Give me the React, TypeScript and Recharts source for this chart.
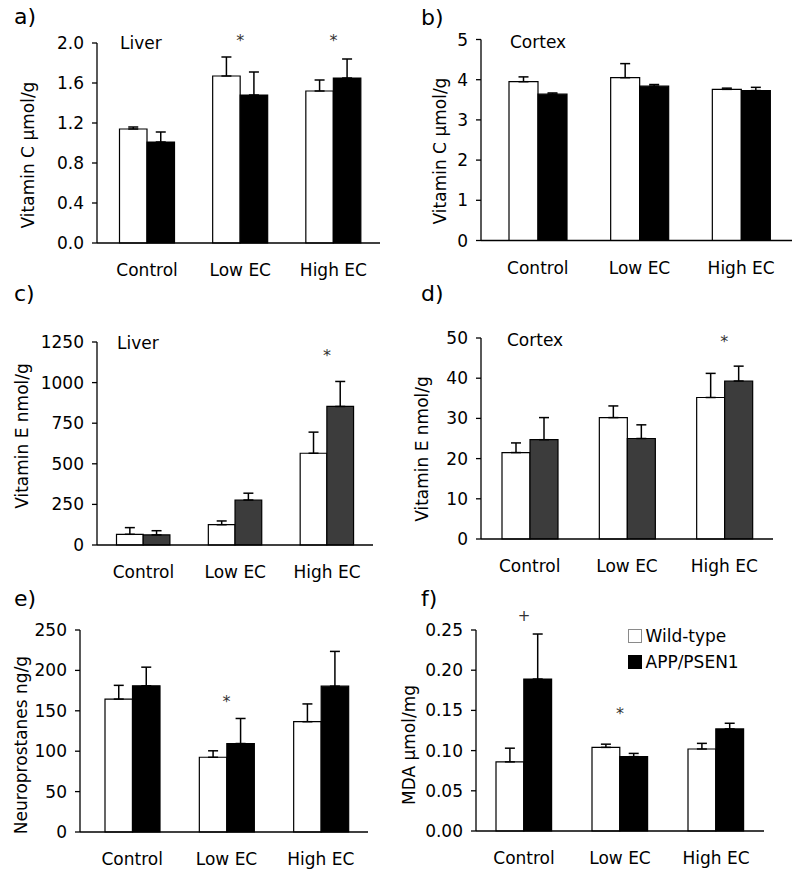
import React from 'react';
import { BarChart, Bar, XAxis, YAxis, ErrorBar, ReferenceDot, Legend, Label } from 'recharts';

const FONT = '"DejaVu Sans", Verdana, sans-serif';

const categories = ['Control', 'Low EC', 'High EC'];
const groupNames = ['Wild-type', 'APP/PSEN1'];

// a) vitamin C, liver (µmol/g)
const vitCLiverWT = [1.14, 1.67, 1.52];
const vitCLiverWTErr = [0.02, 0.19, 0.11];
const vitCLiverTg = [1.01, 1.48, 1.65];
const vitCLiverTgErr = [0.1, 0.23, 0.19];

// b) vitamin C, cortex (µmol/g)
const vitCCortexWT = [3.95, 4.05, 3.76];
const vitCCortexWTErr = [0.12, 0.35, 0.03];
const vitCCortexTg = [3.64, 3.84, 3.73];
const vitCCortexTgErr = [0.03, 0.04, 0.08];

// c) vitamin E, liver (nmol/g)
const vitELiverWT = [66, 125, 565];
const vitELiverWTErr = [41, 23, 130];
const vitELiverTg = [62, 277, 853];
const vitELiverTgErr = [26, 42, 154];

// d) vitamin E, cortex (nmol/g)
const vitECortexWT = [21.5, 30.2, 35.2];
const vitECortexWTErr = [2.4, 2.9, 6.0];
const vitECortexTg = [24.7, 25.0, 39.3];
const vitECortexTgErr = [5.5, 3.4, 3.7];

// e) neuroprostanes (ng/g)
const neuroWT = [164.5, 92.5, 136.5];
const neuroWTErr = [17, 8, 22];
const neuroTg = [181, 109.5, 180.5];
const neuroTgErr = [23, 31, 43];

// f) MDA (µmol/mg)
const mdaWT = [0.086, 0.104, 0.102];
const mdaWTErr = [0.017, 0.004, 0.007];
const mdaTg = [0.189, 0.0925, 0.127];
const mdaTgErr = [0.056, 0.004, 0.007];

// y ticks
const ticksA = [0, 0.4, 0.8, 1.2, 1.6, 2.0];
const ticksB = [0, 1, 2, 3, 4, 5];
const ticksC = [0, 250, 500, 750, 1000, 1250];
const ticksD = [0, 10, 20, 30, 40, 50];
const ticksE = [0, 50, 100, 150, 200, 250];
const ticksF = [0, 0.05, 0.1, 0.15, 0.2, 0.25];

// significance marks: category, height in data units, symbol
const marksA = [{ cat: 'Low EC', y: 2.06, sym: '*' }, { cat: 'High EC', y: 2.06, sym: '*' }];
const marksC = [{ cat: 'High EC', y: 1188, sym: '*' }];
const marksD = [{ cat: 'High EC', y: 50, sym: '*' }];
const marksE = [{ cat: 'Low EC', y: 166, sym: '*' }];
const marksF = [{ cat: 'Control', y: 0.2687, sym: '+' }, { cat: 'Low EC', y: 0.1505, sym: '*' }];

type Mark = { cat: string; y: number; sym: string };

interface PanelDef {
  letter: string;
  letterPos: [number, number];
  tissue?: string;
  tissuePos?: [number, number];
  yLabel: string;
  yLabelPos: [number, number];
  box: [number, number, number, number]; // x0, y0, w, h
  plot: [number, number, number, number]; // left, right, top, bottom (page coords)
  padLeft: number;
  barSize: number;
  ticks: number[];
  decimals: number;
  wt: number[];
  wtErr: number[];
  tg: number[];
  tgErr: number[];
  tgFill: string;
  marks: Mark[];
  legend?: boolean;
}

const panels: PanelDef[] = [
  {
    letter: 'a)', letterPos: [14, 6], tissue: 'Liver', tissuePos: [120, 35],
    yLabel: 'Vitamin C µmol/g', yLabelPos: [28, 155],
    box: [0, 0, 400, 290], plot: [97, 380, 43, 243], padLeft: 3.5, barSize: 27.5,
    ticks: ticksA, decimals: 1,
    wt: vitCLiverWT, wtErr: vitCLiverWTErr, tg: vitCLiverTg, tgErr: vitCLiverTgErr,
    tgFill: '#000', marks: marksA,
  },
  {
    letter: 'b)', letterPos: [421, 7], tissue: 'Cortex', tissuePos: [510, 34],
    yLabel: 'Vitamin C µmol/g', yLabelPos: [440, 151],
    box: [400, 0, 400, 290], plot: [481, 792, 39.5, 240.5], padLeft: 6, barSize: 29,
    ticks: ticksB, decimals: 0,
    wt: vitCCortexWT, wtErr: vitCCortexWTErr, tg: vitCCortexTg, tgErr: vitCCortexTgErr,
    tgFill: '#000', marks: [],
  },
  {
    letter: 'c)', letterPos: [14, 283], tissue: 'Liver', tissuePos: [117, 335],
    yLabel: 'Vitamin E nmol/g', yLabelPos: [22, 436],
    box: [0, 290, 400, 300], plot: [97, 373, 342, 545], padLeft: 0.5, barSize: 26.7,
    ticks: ticksC, decimals: 0,
    wt: vitELiverWT, wtErr: vitELiverWTErr, tg: vitELiverTg, tgErr: vitELiverTgErr,
    tgFill: '#3c3c3c', marks: marksC,
  },
  {
    letter: 'd)', letterPos: [421, 283], tissue: 'Cortex', tissuePos: [507, 332],
    yLabel: 'Vitamin E nmol/g', yLabelPos: [422, 449],
    box: [400, 290, 400, 300], plot: [481, 773, 338, 539], padLeft: 0, barSize: 28,
    ticks: ticksD, decimals: 0,
    wt: vitECortexWT, wtErr: vitECortexWTErr, tg: vitECortexTg, tgErr: vitECortexTgErr,
    tgFill: '#3c3c3c', marks: marksD,
  },
  {
    letter: 'e)', letterPos: [14, 588],
    yLabel: 'Neuroprostanes ng/g', yLabelPos: [21, 745],
    box: [0, 590, 392, 288], plot: [80, 368, 630, 832], padLeft: 5, barSize: 27.5,
    ticks: ticksE, decimals: 0,
    wt: neuroWT, wtErr: neuroWTErr, tg: neuroTg, tgErr: neuroTgErr,
    tgFill: '#000', marks: marksE,
  },
  {
    letter: 'f)', letterPos: [421, 588],
    yLabel: 'MDA µmol/mg', yLabelPos: [409, 745],
    box: [392, 590, 408, 288], plot: [476, 764, 630, 831], padLeft: 0, barSize: 27.8,
    ticks: ticksF, decimals: 2,
    wt: mdaWT, wtErr: mdaWTErr, tg: mdaTg, tgErr: mdaTgErr,
    tgFill: '#000', marks: marksF, legend: true,
  },
];

const textStyle = { fill: '#000', fontSize: 17, fontFamily: FONT };

function LegendBox() {
  const swatches = ['#fff', '#000'];
  return (
    <div style={{ fontFamily: FONT, fontSize: 17, color: '#000' }}>
      {groupNames.map((g, i) => (
        <div key={g} style={{ display: 'flex', alignItems: 'center', height: 26 }}>
          <span
            style={{
              display: 'inline-block', width: 14, height: 14, marginRight: 4,
              background: swatches[i], border: i === 0 ? '1px solid #8a8a8a' : '1px solid #000',
              boxSizing: 'border-box',
            }}
          />
          <span>{g}</span>
        </div>
      ))}
    </div>
  );
}

function Panel({ p }: { p: PanelDef }) {
  const [x0, y0, w, h] = p.box;
  const [left, right, top, bottom] = p.plot;
  const rows = categories.map((c, i) => ({
    name: c,
    wt: p.wt[i],
    wtErr: [0, p.wtErr[i]],
    tg: p.tg[i],
    tgErr: [0, p.tgErr[i]],
  }));
  const lx = p.yLabelPos[0] - x0;
  const ly = p.yLabelPos[1] - y0;

  return (
    <div style={{ position: 'absolute', left: x0, top: y0, width: w, height: h }}>
      <BarChart
        width={w}
        height={h}
        data={rows}
        margin={{ top: top - y0, right: x0 + w - right, bottom: 0, left: 0 }}
        barGap={0}
        barSize={p.barSize}
      >
        <XAxis
          dataKey="name"
          interval={0}
          height={y0 + h - bottom}
          padding={{ left: p.padLeft, right: 0 }}
          axisLine={{ stroke: '#000', strokeWidth: 1.3 }}
          tickLine={false}
          tickSize={0}
          tickMargin={21}
          tick={textStyle}
        />
        <YAxis
          type="number"
          domain={[0, p.ticks[p.ticks.length - 1]]}
          ticks={p.ticks}
          width={left - x0}
          tickSize={5}
          tickMargin={8}
          tickFormatter={(v: number) => v.toFixed(p.decimals)}
          axisLine={{ stroke: '#000', strokeWidth: 1.3 }}
          tickLine={{ stroke: '#000', strokeWidth: 1.3 }}
          tick={textStyle}
        >
          <Label
            content={() => (
              <text
                x={lx}
                y={ly}
                transform={`rotate(-90 ${lx} ${ly})`}
                textAnchor="middle"
                dominantBaseline="central"
                fill="#000"
                fontSize={17}
                fontFamily={FONT}
              >
                {p.yLabel}
              </text>
            )}
          />
        </YAxis>
        <Bar dataKey="wt" name={groupNames[0]} fill="#fff" stroke="#000" strokeWidth={1.2} isAnimationActive={false}>
          <ErrorBar dataKey="wtErr" direction="y" width={5} stroke="#000" strokeWidth={1.5} />
        </Bar>
        <Bar dataKey="tg" name={groupNames[1]} fill={p.tgFill} stroke="#000" strokeWidth={1.2} isAnimationActive={false}>
          <ErrorBar dataKey="tgErr" direction="y" width={5} stroke="#000" strokeWidth={1.5} />
        </Bar>
        {p.marks.map((m) => (
          <ReferenceDot
            key={m.cat + m.sym}
            x={m.cat}
            y={m.y}
            r={0}
            ifOverflow="visible"
            shape={(s: any) => (
              <text
                x={s.cx}
                y={s.cy + (m.sym === '*' ? 9 : 6)}
                textAnchor="middle"
                fill="#333"
                fontSize={m.sym === '*' ? 16 : 15}
                fontFamily={FONT}
              >
                {m.sym}
              </text>
            )}
          />
        ))}
        {p.legend && (
          <Legend
            layout="vertical"
            align="center"
            verticalAlign="middle"
            wrapperStyle={{ left: 627.5 - x0, top: 32.5, width: 'auto', height: 'auto' }}
            content={() => <LegendBox />}
          />
        )}
      </BarChart>
      <div
        style={{
          position: 'absolute', left: p.letterPos[0] - x0, top: p.letterPos[1] - y0,
          fontFamily: FONT, fontSize: 22, lineHeight: '22px', color: '#000',
        }}
      >
        {p.letter}
      </div>
      {p.tissue && p.tissuePos && (
        <div
          style={{
            position: 'absolute', left: p.tissuePos[0] - x0, top: p.tissuePos[1] - y0,
            fontFamily: FONT, fontSize: 17, lineHeight: '17px', color: '#000',
          }}
        >
          {p.tissue}
        </div>
      )}
    </div>
  );
}

export default function App() {
  return (
    <div style={{ position: 'absolute', left: 0, top: 0, width: 800, height: 878, background: '#fff', overflow: 'hidden' }}>
      {panels.map((p) => (
        <Panel key={p.letter} p={p} />
      ))}
    </div>
  );
}
